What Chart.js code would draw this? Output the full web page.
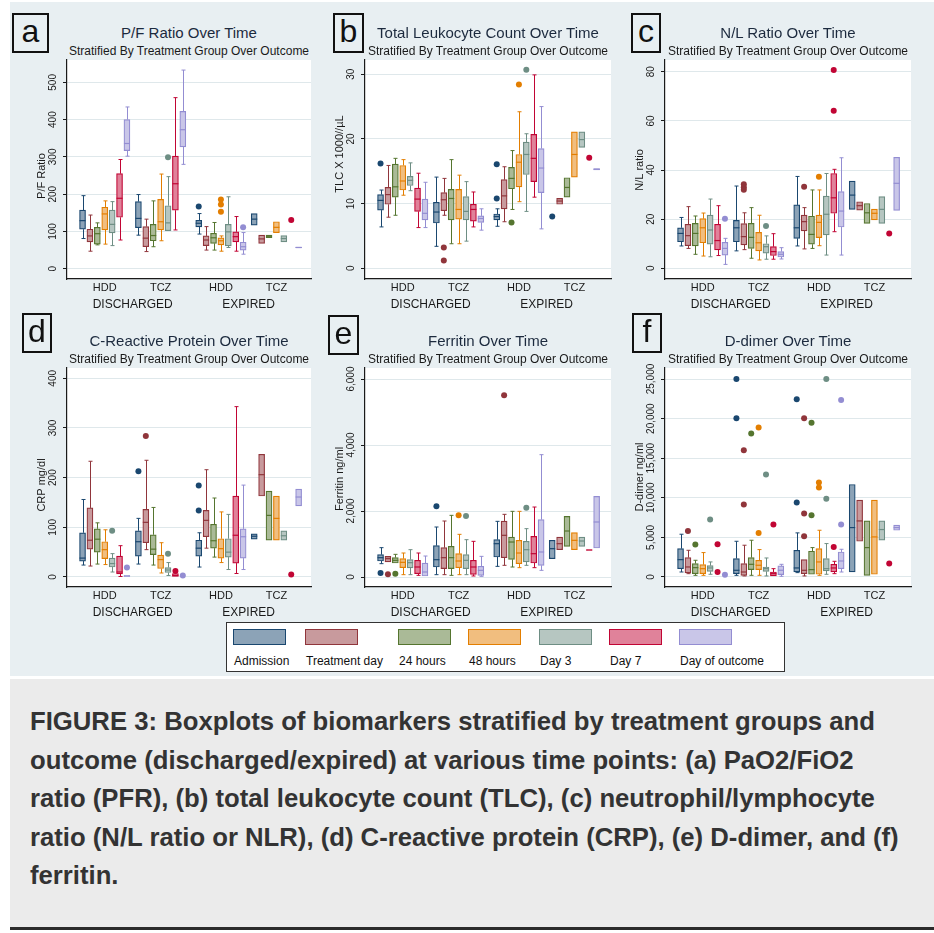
<!DOCTYPE html>
<html>
<head>
<meta charset="utf-8">
<script src="https://cdn.jsdelivr.net/npm/chart.js@4.4.1/dist/chart.umd.min.js"></script>
<style>
  body { margin: 0; background: #fff; font-family: "Liberation Sans", Arial, sans-serif; }
  #fig { position: absolute; left: 10px; top: 2px; width: 924px; height: 674px; background: #e8eff2; }
  .tag { position: absolute; box-sizing: border-box; border: 2.5px solid #111; font-size: 32px; line-height: 1;
         display: flex; align-items: center; justify-content: center; color: #111; padding-bottom: 4px; }
  .ttl { position: absolute; text-align: center; white-space: nowrap; color: #1c2a3e; }
  .ttl.main { font-size: 15px; line-height: 18px; }
  .ttl.sub { font-size: 12px; line-height: 14px; color: #1a1a1a; }
  canvas { position: absolute; }
  #legend { position: absolute; left: 226px; top: 622px; width: 559px; height: 50px; box-sizing: border-box;
            border: 1px solid #333; background: #fff; }
  .sw { position: absolute; top: 6px; width: 53px; height: 16px; box-sizing: border-box; border: 1.5px solid; }
  .lab { position: absolute; top: 31px; font-size: 12px; line-height: 14px; color: #111; white-space: nowrap; }
  #caption { position: absolute; left: 10px; top: 679px; width: 924px; height: 251px; box-sizing: border-box;
             background: #ebebeb; border-bottom: 3px solid #2b2b2b; padding: 23px 0 0 20px;
             font-weight: bold; font-size: 25.7px; line-height: 38.5px; color: #333; white-space: nowrap; }
</style>
</head>
<body>
<div id="fig"></div>
<div id="legend"></div>
<div id="caption">FIGURE 3: Boxplots of biomarkers stratified by treatment groups and<br>outcome (discharged/expired) at various time points: (a) PaO2/FiO2<br>ratio (PFR), (b) total leukocyte count (TLC), (c) neutrophil/lymphocyte<br>ratio (N/L ratio or NLR), (d) C-reactive protein (CRP), (e) D-dimer, and (f)<br>ferritin.</div>
<script>
// time points (one colour each) and the four groups on the x axis
const timePoints = ['Admission', 'Treatment day', '24 hours', '48 hours', 'Day 3', 'Day 7', 'Day of outcome'];
const groupLabels = ['HDD', 'TCZ', 'HDD', 'TCZ'];
const outcomeLabels = ['DISCHARGED', 'EXPIRED'];

// each stats row = one group, 7 entries [min, q1, median, q3, max] (null = no box)
// outliers = [group, timePoint, value]
const pfTicks = [0, 100, 200, 300, 400, 500];
const pfStats = [
  [[81,106,129,157,196],[47,72,88,106,144],[64,66,94,111,123],[66,104,147,165,182],[62,96,119,157,180],[77,138,189,255,293],[302,317,336,400,434]],
  [[90,110,135,180,199],[46,59,82,113,133],[59,75,89,119,182],[75,104,126,186,254],[102,102,123,169,247],[104,157,228,302,459],[280,327,373,422,533]],
  [[93,112,122,130,148],[50,62,77,88,113],[50,68,83,95,124],[47,64,75,83,88],[57,61,99,119,193],[47,72,86,99,140],[39,50,59,71,97]],
  [[117,117,133,148,148],[68,68,80,90,90],[83,83,87,90,90],[97,97,111,126,126],[72,72,81,89,89],null,[56,56,57,58,58]]
];
const pfOutliers = [[1,4,299],[2,0,167],[2,3,186],[2,3,172],[2,3,153],[2,6,111],[3,5,131]];

const tlcTicks = [0, 10, 20, 30];
const tlcStats = [
  [[6.4,9.0,10.5,11.4,12.1],[7.9,9.9,11.4,12.5,15.9],[8.2,11.0,12.6,16.1,17.0],[11.3,12.1,13.5,15.9,16.8],[12.0,12.8,13.6,14.2,16.3],[6.3,8.8,10.7,12.4,14.7],[6.3,7.5,8.5,10.7,13.3]],
  [[3.4,7.0,8.7,10.2,14.1],[8.2,8.9,10.6,11.7,13.9],[3.8,7.5,10.8,12.2,16.8],[3.8,7.6,9.1,12.2,14.4],[4.2,7.5,8.8,11.1,13.4],[6.4,7.3,9.1,9.9,11.8],[5.9,7.1,7.7,8.1,9.2]],
  [[6.5,7.5,8.0,8.4,9.2],[7.2,9.2,11.2,13.7,15.7],[9.1,12.3,13.9,15.6,18.2],[10.3,12.6,16.4,17.6,24.2],[8.8,14.5,17.6,19.5,20.8],[11.0,13.4,17.0,20.7,29.9],[6.1,11.7,15.5,18.5,25.0]],
  [null,[9.9,9.9,10.4,10.8,10.8],[11.0,11.0,12.5,14.0,14.0],[14.1,14.1,17.6,21.1,21.1],[18.7,18.7,19.9,21.1,21.1],null,[15.2,15.2,15.3,15.4,15.4]]
];
const tlcOutliers = [[0,0,16.2],[1,1,3.2],[1,1,1.2],[2,0,16.1],[2,0,10.8],[2,2,7.1],[2,3,28.4],[2,4,30.7],[3,0,8.0],[3,5,17.1]];

const nlrTicks = [0, 20, 40, 60, 80];
const nlrStats = [
  [[9.1,10.8,14.2,16.5,20.7],[8.1,9.2,13.3,17.9,25.1],[5.7,9.1,14.2,18.3,21.3],[5.0,10.4,16.5,20.2,22.5],[4.7,9.8,15.6,21.7,28.2],[5.2,7.5,11.3,17.9,25.5],[1.6,5.4,8.1,10.6,12.2]],
  [[7.1,10.8,16.5,19.5,33.5],[7.6,9.5,12.9,18.2,22.6],[4.1,8.1,12.6,18.3,24.7],[3.4,7.1,10.4,14.6,21.6],[3.7,6.2,8.8,10.0,13.2],[3.7,5.2,6.8,8.8,14.1],[3.8,4.6,5.7,6.8,8.4]],
  [[9.1,12.2,16.5,25.8,37.4],[7.9,15.2,19.0,21.7,24.7],[8.1,9.8,13.8,21.2,31.9],[9.2,12.5,18.7,21.7,31.9],[5.4,13.6,22.0,29.4,38.6],[14.9,22.4,28.7,38.6,40.3],[5.4,16.8,23.3,31.2,45.0]],
  [[24.0,24.0,29.8,35.5,35.5],[23.7,23.7,25.5,27.1,27.1],[18.3,18.3,22.6,26.4,26.4],[19.7,19.7,22.4,24.1,24.1],[18.3,18.3,24.0,29.2,29.2],null,[23.6,23.6,34.6,45.2,45.2]]
];
const nlrOutliers = [[0,6,20.2],[1,1,34.2],[1,1,33.0],[1,1,32.0],[1,4,17.2],[2,1,33.2],[2,3,37.3],[2,5,80.7],[2,5,64.1],[3,5,14.2]];

const crpTicks = [0, 100, 200, 300, 400];
const crpStats = [
  [[24,32,38,89,156],[22,56,74,139,233],[26,50,76,97,109],[25,37,55,71,95],[10,20,27,38,47],[1,6,10,42,63],[0,0,2,3,3]],
  [[26,42,71,93,118],[55,69,110,136,235],[24,45,56,85,140],[8,17,35,44,69],[3,9,14,19,29],[1,1,3,7,7],null],
  [[20,42,58,74,89],[58,81,114,134,216],[40,58,73,106,159],[29,38,57,77,131],[15,40,50,77,126],[7,28,84,163,343],[15,38,81,97,185]],
  [[76,76,82,87,87],[163,163,206,247,247],[74,74,124,173,173],[74,74,118,163,163],[74,74,83,93,93],null,[143,143,161,177,177]]
];
const crpOutliers = [[0,4,93],[0,6,19],[1,0,213],[1,1,284],[1,4,47],[1,5,12],[1,6,3],[2,0,184],[2,0,134],[3,5,5]];

const ferTicks = [0, 2000, 4000, 6000];
const ferStats = [
  [[404,485,586,677,889],[455,455,556,626,626],[424,424,505,586,687],[71,283,444,556,727],[71,273,434,525,828],[50,101,303,505,727],[30,30,152,424,636]],
  [[71,303,525,949,1515],[71,253,586,889,1697],[50,253,586,929,1869],[71,283,485,707,1293],[71,253,505,677,1131],[30,81,303,505,1081],[20,50,202,323,626]],
  [[323,606,1010,1131,1687],[354,586,1263,1697,1899],[303,535,1060,1212,1990],[283,404,727,1111,1990],[354,455,828,1081,1465],[283,424,707,1232,2121],[202,354,758,1737,3707]],
  [[556,556,859,1111,1111],[828,828,1010,1212,1212],[929,929,1394,1838,1838],[828,828,1111,1343,1343],[929,929,1091,1212,1212],[812,812,818,824,824],[879,879,1667,2444,2444]]
];
const ferOutliers = [[0,0,121],[0,1,81],[0,2,101],[1,0,2141],[1,3,1869],[1,4,1848],[2,1,5505],[2,4,2101]];

const ddTicks = [0, 5000, 10000, 15000, 20000, 25000];
const ddStats = [
  [[630,1050,2190,3580,5400],[420,505,1265,2445,3370],[210,420,1180,1690,2110],[210,420,1050,1560,3080],[340,715,1140,1430,1900],null,null],
  [[210,420,845,2320,4510],[130,210,630,1690,4010],[210,930,1600,2445,4640],[210,930,1480,2110,3460],[130,715,1050,1265,2400],[130,130,420,630,1050],[85,300,850,1400,1600]],
  [[550,630,1140,3370,5570],[130,420,845,2190,2190],[340,340,930,3250,3710],[210,340,1900,3580,5900],[340,760,1050,2320,4220],[420,630,1140,1600,1980],[630,1050,2020,3160,3500]],
  [[630,630,6240,11680,11680],[4510,4510,7080,9700,9700],[210,210,3710,7080,7080],[340,340,5060,9700,9700],[4640,4640,5990,7080,7080],null,[5900,5900,6240,6540,6540]]
];
const ddOutliers = [[0,1,5820],[0,2,4090],[0,4,7250],[0,5,4130],[0,5,630],[0,6,295],
  [1,0,25000],[1,0,20030],[1,1,16000],[1,1,9150],[1,2,18130],[1,3,18890],[1,3,5570],[1,4,12940],[1,5,6620],
  [2,0,22430],[2,0,9400],[2,1,20030],[2,1,8010],[2,1,5140],[2,2,19480],[2,2,7800],[2,3,11930],[2,3,11300],
  [2,4,25000],[2,4,9870],[2,5,3790],[2,6,22350],[2,6,6620],[3,5,1690]];

// Stata s2color palette
const lineColors = ['#1a476f', '#90353b', '#55752f', '#e37e00', '#6e8e84', '#c10534', '#938dd2'];
const fillColors = ['#8ca3b7', '#c89a9d', '#aaba97', '#f1be7f', '#b6c6c1', '#e0829a', '#c9c6e8'];

// layout
const GROUP_OFFSET = [0, 7.55, 15.7, 23.2];
const SLOT_PX = 7.4;
const X_MIN = -2.1;
const FONT = '"Liberation Sans", Arial, sans-serif';

const panels = [
  { tag: 'a', box: [12, 13, 37, 40], left: 67, top: 60, right: 311, bottom: 279, yMin: -27.6, yMax: 560,
    title: 'P/F Ratio Over Time', yTitle: 'P/F Ratio', yTitleY: 176, ticks: pfTicks, stats: pfStats, outliers: pfOutliers },
  { tag: 'b', box: [333, 13, 31, 40], left: 365, top: 60, right: 611, bottom: 279, yMin: -1.65, yMax: 32.2,
    title: 'Total Leukocyte Count Over Time', yTitle: 'TLC X 1000//µL', yTitleY: 154, ticks: tlcTicks, stats: tlcStats, outliers: tlcOutliers },
  { tag: 'c', box: [631, 13, 30, 40], left: 665, top: 60, right: 911, bottom: 279, yMin: -4.35, yMax: 84.8,
    title: 'N/L Ratio Over Time', yTitle: 'N/L ratio', yTitleY: 170, ticks: nlrTicks, stats: nlrStats, outliers: nlrOutliers },
  { tag: 'd', box: [22, 313, 30, 40], left: 67, top: 368, right: 311, bottom: 587, yMin: -20.2, yMax: 420.8,
    title: 'C-Reactive Protein Over Time', yTitle: 'CRP mg/dl', yTitleY: 485, ticks: crpTicks, stats: crpStats, outliers: crpOutliers },
  { tag: 'e', box: [328, 315, 31, 40], left: 365, top: 368, right: 611, bottom: 587, yMin: -303, yMax: 6334,
    title: 'Ferritin Over Time', yTitle: 'Ferritin ng/ml', yTitleY: 479, ticks: ferTicks, stats: ferStats, outliers: ferOutliers },
  { tag: 'f', box: [632, 313, 30, 40], left: 665, top: 368, right: 911, bottom: 587, yMin: -1265, yMax: 26391,
    title: 'D-dimer Over Time', yTitle: 'D-dimer ng/ml', yTitleY: 477, ticks: ddTicks, stats: ddStats, outliers: ddOutliers }
];

function addDiv(cls, text, css) {
  const d = document.createElement('div');
  d.className = cls;
  d.textContent = text;
  d.style.cssText = css;
  document.body.appendChild(d);
  return d;
}

// whiskers, medians and the axis texts, all placed through the chart scales
const boxPlugin = (p) => ({
  id: 'boxes',
  beforeDraw(chart) {
    const a = chart.chartArea, ctx = chart.ctx;
    ctx.save();
    ctx.fillStyle = '#fff';
    ctx.fillRect(a.left, a.top, a.right - a.left, a.bottom - a.top);
    ctx.restore();
  },
  beforeDatasetsDraw(chart) {
    const ctx = chart.ctx, xs = chart.scales.x, ys = chart.scales.y;
    ctx.save();
    ctx.lineWidth = 1;
    p.stats.forEach((row, g) => row.forEach((s, t) => {
      if (!s) return;
      const x = Math.round(xs.getPixelForValue(GROUP_OFFSET[g] + t)) + 0.5;
      ctx.strokeStyle = lineColors[t];
      ctx.beginPath();
      if (s[4] > s[3]) {
        const y1 = ys.getPixelForValue(s[4]);
        ctx.moveTo(x, ys.getPixelForValue(s[3])); ctx.lineTo(x, y1);
        ctx.moveTo(x - 2, y1); ctx.lineTo(x + 2, y1);
      }
      if (s[0] < s[1]) {
        const y0 = ys.getPixelForValue(s[0]);
        ctx.moveTo(x, ys.getPixelForValue(s[1])); ctx.lineTo(x, y0);
        ctx.moveTo(x - 2, y0); ctx.lineTo(x + 2, y0);
      }
      ctx.stroke();
    }));
    ctx.restore();
  },
  afterDatasetsDraw(chart) {
    const ctx = chart.ctx, xs = chart.scales.x, ys = chart.scales.y;
    ctx.save();
    ctx.lineWidth = 1.2;
    p.stats.forEach((row, g) => row.forEach((s, t) => {
      if (!s) return;
      const x = xs.getPixelForValue(GROUP_OFFSET[g] + t);
      const y = ys.getPixelForValue(s[2]);
      ctx.strokeStyle = lineColors[t];
      ctx.beginPath();
      ctx.moveTo(x - 3, y); ctx.lineTo(x + 3, y);
      ctx.stroke();
    }));
    ctx.restore();
  },
  afterDraw(chart) {
    const ctx = chart.ctx, xs = chart.scales.x, ys = chart.scales.y, a = chart.chartArea;
    ctx.save();
    ctx.fillStyle = '#1a1a1a';
    ctx.textBaseline = 'middle';
    ctx.textAlign = 'center';
    // rotated y tick labels
    ctx.font = '10px ' + FONT;
    p.ticks.forEach(v => {
      ctx.save();
      ctx.translate(a.left - 14, ys.getPixelForValue(v));
      ctx.rotate(-Math.PI / 2);
      ctx.fillText(v.toLocaleString('en-US'), 0, 0);
      ctx.restore();
    });
    // y axis title
    ctx.font = '11px ' + FONT;
    ctx.save();
    ctx.translate(a.left - 25, p.yTitleY - (p.top - 5));
    ctx.rotate(-Math.PI / 2);
    ctx.fillText(p.yTitle, 0, 0);
    ctx.restore();
    // group labels
    const centres = GROUP_OFFSET.map(o => xs.getPixelForValue(o + 3));
    ctx.font = '11px ' + FONT;
    groupLabels.forEach((lab, g) => ctx.fillText(lab, centres[g], a.bottom + 8.5));
    ctx.font = '12px ' + FONT;
    outcomeLabels.forEach((lab, i) => ctx.fillText(lab, (centres[2 * i] + centres[2 * i + 1]) / 2, a.bottom + 25.5));
    ctx.restore();
  }
});

function makePanel(p) {
  const W = p.right - p.left, H = p.bottom - p.top;
  addDiv('tag', p.tag, `left:${p.box[0]}px;top:${p.box[1]}px;width:${p.box[2]}px;height:${p.box[3]}px;`);
  addDiv('ttl main', p.title, `left:${p.left}px;width:${W}px;top:${p.top - 36}px;`);
  addDiv('ttl sub', 'Stratified By Treatment Group Over Outcome', `left:${p.left}px;width:${W}px;top:${p.top - 16}px;`);

  const canvas = document.createElement('canvas');
  canvas.width = W + 65;
  canvas.height = H + 50;
  canvas.style.left = (p.left - 60) + 'px';
  canvas.style.top = (p.top - 5) + 'px';
  document.body.appendChild(canvas);

  const datasets = timePoints.map((tp, t) => ({
    type: 'bar',
    label: tp,
    data: p.stats.map((row, g) => row[t] ? { x: GROUP_OFFSET[g] + t, y: [row[t][1], row[t][3]] } : null).filter(Boolean),
    backgroundColor: fillColors[t],
    borderColor: lineColors[t],
    borderWidth: 1.2,
    borderSkipped: false,
    barThickness: 6,
    grouped: false
  }));
  datasets.push({
    type: 'scatter',
    label: 'outliers',
    data: p.outliers.map(o => ({ x: GROUP_OFFSET[o[0]] + o[1], y: o[2] })),
    pointBackgroundColor: p.outliers.map(o => lineColors[o[1]]),
    pointBorderWidth: 0,
    pointRadius: 3
  });

  new Chart(canvas, {
    type: 'bar',
    data: { datasets },
    options: {
      responsive: false,
      animation: false,
      events: [],
      layout: { padding: { top: 5, right: 5, left: 0, bottom: 0 } },
      plugins: { legend: { display: false }, tooltip: { enabled: false } },
      scales: {
        x: {
          type: 'linear', min: X_MIN, max: X_MIN + W / SLOT_PX, offset: false,
          grid: { display: false }, ticks: { display: false },
          border: { color: '#1a1a1a', width: 1.2 },
          afterFit: s => { s.height = 45; }
        },
        y: {
          type: 'linear', min: p.yMin, max: p.yMax,
          grid: { color: '#dfe8eb', lineWidth: 1, tickColor: '#1a1a1a', tickLength: 4 },
          ticks: { display: false },
          border: { color: '#1a1a1a', width: 1.2 },
          afterBuildTicks: s => { s.ticks = p.ticks.map(v => ({ value: v })); },
          afterFit: s => { s.width = 60; }
        }
      }
    },
    plugins: [boxPlugin(p)]
  });
}

panels.forEach(makePanel);

// shared legend
const legend = document.getElementById('legend');
const legendX = [6, 78, 171, 241, 312, 382, 452];
timePoints.forEach((tp, t) => {
  const sw = document.createElement('div');
  sw.className = 'sw';
  sw.style.left = legendX[t] + 'px';
  sw.style.background = fillColors[t];
  sw.style.borderColor = lineColors[t];
  legend.appendChild(sw);
  const lab = document.createElement('div');
  lab.className = 'lab';
  lab.style.left = (legendX[t] + 1) + 'px';
  lab.textContent = tp;
  legend.appendChild(lab);
});
</script>
</body>
</html>
